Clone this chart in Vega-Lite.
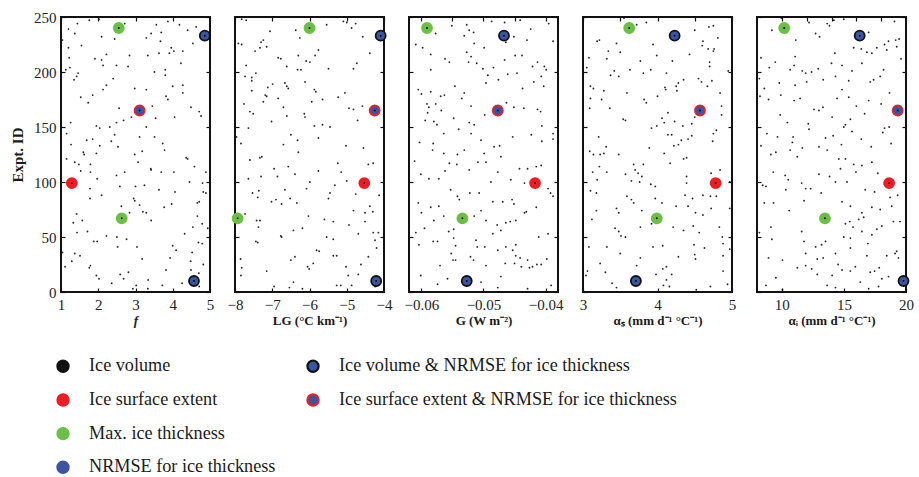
{
"$schema": "https://vega.github.io/schema/vega-lite/v6.json",
"padding": {"left": 9, "top": 9, "right": 5, "bottom": 0},
"bounds": "flush",
"spacing": 25,
"hconcat": [
{"width": 149, "height": 275, "view": {"stroke": "#111", "strokeWidth": 2},
 "resolve": {"axis": {"x": "independent", "y": "independent"}, "scale": {"x": "independent", "y": "independent"}},
 "layer": [
  {"data": {"name": "d1"}, "mark": {"type": "circle", "size": 3.5, "color": "#000", "opacity": 0.85},
   "encoding": {"x": {"field": "x", "type": "quantitative", "scale": {"domain": [1, 5], "nice": false, "zero": false}, "axis": {"values": [1, 2, 3, 4, 5], "title": "f", "titleFontStyle": "italic"}},
                "y": {"field": "id", "type": "quantitative", "scale": {"domain": [0, 250], "nice": false}, "axis": {"values": [0, 50, 100, 150, 200, 250], "title": "Expt. ID", "titleFontSize": 15}}}},
  {"data": {"name": "h1"}, "mark": {"type": "circle", "size": 100, "strokeWidth": 1.8, "opacity": 1},
   "encoding": {"x": {"field": "x", "type": "quantitative", "scale": {"domain": [1, 5], "nice": false, "zero": false}, "axis": {"orient": "top", "values": [1, 2, 3, 4, 5], "labels": false, "title": null}},
                "y": {"field": "id", "type": "quantitative", "scale": {"domain": [0, 250], "nice": false}, "axis": {"orient": "right", "values": [0, 50, 100, 150, 200, 250], "labels": false, "title": null}},
                "fill": {"field": "cat", "type": "nominal", "legend": null, "scale": {"domain": ["Ice volume", "Ice surface extent", "Max. ice thickness", "NRMSE for ice thickness", "Ice volume & NRMSE for ice thickness", "Ice surface extent & NRMSE for ice thickness"], "range": ["#111111", "#ee1d23", "#6cbf45", "#3b55a5", "#3b55a5", "#3b55a5"]}},
                "stroke": {"field": "cat", "type": "nominal", "legend": null, "scale": {"domain": ["Ice volume", "Ice surface extent", "Max. ice thickness", "NRMSE for ice thickness", "Ice volume & NRMSE for ice thickness", "Ice surface extent & NRMSE for ice thickness"], "range": ["#111111", "#ee1d23", "#6cbf45", "#3b55a5", "#111111", "#ee1d23"]}}}},
  {"data": {"name": "h1"}, "mark": {"type": "circle", "size": 3.5, "color": "#000", "opacity": 1},
   "encoding": {"x": {"field": "x", "type": "quantitative", "scale": {"domain": [1, 5], "nice": false, "zero": false}, "axis": null}, "y": {"field": "id", "type": "quantitative", "scale": {"domain": [0, 250], "nice": false}, "axis": null}}},
  {"data": {"name": "leg"}, "mark": {"type": "circle", "size": 125, "strokeWidth": 2.2, "opacity": 1},
   "encoding": {"x": {"field": "col", "type": "quantitative", "scale": {"domain": [-0.008, 0.588], "nice": false, "zero": false}, "axis": null},
                "y": {"field": "row", "type": "quantitative", "scale": {"domain": [-9.374, -1.206], "nice": false, "zero": false, "reverse": true}, "axis": null},
                "fill": {"field": "cat", "type": "nominal", "legend": null},
                "stroke": {"field": "cat", "type": "nominal", "legend": null}}},
  {"data": {"name": "leg"}, "mark": {"type": "text", "align": "left", "baseline": "middle", "dx": 26, "font": "Liberation Serif", "fontSize": 18.2, "color": "#1a1a1a"},
   "encoding": {"x": {"field": "col", "type": "quantitative", "scale": {"domain": [-0.008, 0.588], "nice": false, "zero": false}, "axis": null},
                "y": {"field": "row", "type": "quantitative", "scale": {"domain": [-9.374, -1.206], "nice": false, "zero": false, "reverse": true}, "axis": null},
                "text": {"field": "cat", "type": "nominal"}}}
 ]},
{"width": 149, "height": 275, "view": {"stroke": "#111", "strokeWidth": 2},
 "resolve": {"axis": {"x": "independent", "y": "independent"}},
 "layer": [
  {"data": {"name": "d2"}, "mark": {"type": "circle", "size": 3.5, "color": "#000", "opacity": 0.85},
   "encoding": {"x": {"field": "x", "type": "quantitative", "scale": {"domain": [-8, -4], "nice": false, "zero": false}, "axis": {"values": [-8, -7, -6, -5, -4], "title": "LG (°C km⁻¹)"}},
                "y": {"field": "id", "type": "quantitative", "scale": {"domain": [0, 250], "nice": false}, "axis": {"values": [0, 50, 100, 150, 200, 250], "labels": false, "title": null}}}},
  {"data": {"name": "h2"}, "mark": {"type": "circle", "size": 100, "strokeWidth": 1.8, "opacity": 1},
   "encoding": {"x": {"field": "x", "type": "quantitative", "scale": {"domain": [-8, -4], "nice": false, "zero": false}, "axis": {"orient": "top", "values": [-8, -7, -6, -5, -4], "labels": false, "title": null}},
                "y": {"field": "id", "type": "quantitative", "scale": {"domain": [0, 250], "nice": false}, "axis": {"orient": "right", "values": [0, 50, 100, 150, 200, 250], "labels": false, "title": null}},
                "fill": {"field": "cat", "type": "nominal", "legend": null},
                "stroke": {"field": "cat", "type": "nominal", "legend": null}}},
  {"data": {"name": "h2"}, "mark": {"type": "circle", "size": 3.5, "color": "#000", "opacity": 1},
   "encoding": {"x": {"field": "x", "type": "quantitative", "axis": null}, "y": {"field": "id", "type": "quantitative", "axis": null}}}
 ]},
{"width": 149, "height": 275, "view": {"stroke": "#111", "strokeWidth": 2},
 "resolve": {"axis": {"x": "independent", "y": "independent"}},
 "layer": [
  {"data": {"name": "d3"}, "mark": {"type": "circle", "size": 3.5, "color": "#000", "opacity": 0.85},
   "encoding": {"x": {"field": "x", "type": "quantitative", "scale": {"domain": [-0.062, -0.038], "nice": false, "zero": false}, "axis": {"values": [-0.06, -0.05, -0.04], "format": ".2f", "title": "G (W m⁻²)"}},
                "y": {"field": "id", "type": "quantitative", "scale": {"domain": [0, 250], "nice": false}, "axis": {"values": [0, 50, 100, 150, 200, 250], "labels": false, "title": null}}}},
  {"data": {"name": "h3"}, "mark": {"type": "circle", "size": 100, "strokeWidth": 1.8, "opacity": 1},
   "encoding": {"x": {"field": "x", "type": "quantitative", "scale": {"domain": [-0.062, -0.038], "nice": false, "zero": false}, "axis": {"orient": "top", "values": [-0.06, -0.055, -0.05, -0.045, -0.04], "labels": false, "title": null}},
                "y": {"field": "id", "type": "quantitative", "scale": {"domain": [0, 250], "nice": false}, "axis": {"orient": "right", "values": [0, 50, 100, 150, 200, 250], "labels": false, "title": null}},
                "fill": {"field": "cat", "type": "nominal", "legend": null},
                "stroke": {"field": "cat", "type": "nominal", "legend": null}}},
  {"data": {"name": "h3"}, "mark": {"type": "circle", "size": 3.5, "color": "#000", "opacity": 1},
   "encoding": {"x": {"field": "x", "type": "quantitative", "axis": null}, "y": {"field": "id", "type": "quantitative", "axis": null}}}
 ]},
{"width": 149, "height": 275, "view": {"stroke": "#111", "strokeWidth": 2},
 "resolve": {"axis": {"x": "independent", "y": "independent"}},
 "layer": [
  {"data": {"name": "d4"}, "mark": {"type": "circle", "size": 3.5, "color": "#000", "opacity": 0.85},
   "encoding": {"x": {"field": "x", "type": "quantitative", "scale": {"domain": [3, 5], "nice": false, "zero": false}, "axis": {"values": [3, 4, 5], "format": "~g", "title": "αₛ (mm d⁻¹ °C⁻¹)"}},
                "y": {"field": "id", "type": "quantitative", "scale": {"domain": [0, 250], "nice": false}, "axis": {"values": [0, 50, 100, 150, 200, 250], "labels": false, "title": null}}}},
  {"data": {"name": "h4"}, "mark": {"type": "circle", "size": 100, "strokeWidth": 1.8, "opacity": 1},
   "encoding": {"x": {"field": "x", "type": "quantitative", "scale": {"domain": [3, 5], "nice": false, "zero": false}, "axis": {"orient": "top", "values": [3, 3.5, 4, 4.5, 5], "labels": false, "title": null}},
                "y": {"field": "id", "type": "quantitative", "scale": {"domain": [0, 250], "nice": false}, "axis": {"orient": "right", "values": [0, 50, 100, 150, 200, 250], "labels": false, "title": null}},
                "fill": {"field": "cat", "type": "nominal", "legend": null},
                "stroke": {"field": "cat", "type": "nominal", "legend": null}}},
  {"data": {"name": "h4"}, "mark": {"type": "circle", "size": 3.5, "color": "#000", "opacity": 1},
   "encoding": {"x": {"field": "x", "type": "quantitative", "axis": null}, "y": {"field": "id", "type": "quantitative", "axis": null}}}
 ]},
{"width": 149, "height": 275, "view": {"stroke": "#111", "strokeWidth": 2},
 "resolve": {"axis": {"x": "independent", "y": "independent"}},
 "layer": [
  {"data": {"name": "d5"}, "mark": {"type": "circle", "size": 3.5, "color": "#000", "opacity": 0.85},
   "encoding": {"x": {"field": "x", "type": "quantitative", "scale": {"domain": [8, 20], "nice": false, "zero": false}, "axis": {"values": [10, 15, 20], "title": "αᵢ (mm d⁻¹ °C⁻¹)"}},
                "y": {"field": "id", "type": "quantitative", "scale": {"domain": [0, 250], "nice": false}, "axis": {"values": [0, 50, 100, 150, 200, 250], "labels": false, "title": null}}}},
  {"data": {"name": "h5"}, "mark": {"type": "circle", "size": 100, "strokeWidth": 1.8, "opacity": 1},
   "encoding": {"x": {"field": "x", "type": "quantitative", "scale": {"domain": [8, 20], "nice": false, "zero": false}, "axis": {"orient": "top", "values": [10, 12, 14, 16, 18, 20], "labels": false, "title": null}},
                "y": {"field": "id", "type": "quantitative", "scale": {"domain": [0, 250], "nice": false}, "axis": {"orient": "right", "values": [0, 50, 100, 150, 200, 250], "labels": false, "title": null}},
                "fill": {"field": "cat", "type": "nominal", "legend": null},
                "stroke": {"field": "cat", "type": "nominal", "legend": null}}},
  {"data": {"name": "h5"}, "mark": {"type": "circle", "size": 3.5, "color": "#000", "opacity": 1},
   "encoding": {"x": {"field": "x", "type": "quantitative", "axis": null}, "y": {"field": "id", "type": "quantitative", "axis": null}}}
 ]}
],
"datasets": {
"leg": [
 {"col": 0, "row": 1, "cat": "Ice volume"},
 {"col": 0, "row": 2, "cat": "Ice surface extent"},
 {"col": 0, "row": 3, "cat": "Max. ice thickness"},
 {"col": 0, "row": 4, "cat": "NRMSE for ice thickness"},
 {"col": 1, "row": 1, "cat": "Ice volume & NRMSE for ice thickness"},
 {"col": 1, "row": 2, "cat": "Ice surface extent & NRMSE for ice thickness"}
],
"h1": [
 {"id": 240, "x": 2.55, "cat": "Max. ice thickness"},
 {"id": 233, "x": 4.86, "cat": "Ice volume & NRMSE for ice thickness"},
 {"id": 165, "x": 3.11, "cat": "Ice surface extent & NRMSE for ice thickness"},
 {"id": 99, "x": 1.29, "cat": "Ice surface extent"},
 {"id": 67, "x": 2.63, "cat": "Max. ice thickness"},
 {"id": 10, "x": 4.57, "cat": "Ice volume & NRMSE for ice thickness"}
],
"h2": [
 {"id": 240, "x": -6.0, "cat": "Max. ice thickness"},
 {"id": 233, "x": -4.09, "cat": "Ice volume & NRMSE for ice thickness"},
 {"id": 165, "x": -4.25, "cat": "Ice surface extent & NRMSE for ice thickness"},
 {"id": 99, "x": -4.53, "cat": "Ice surface extent"},
 {"id": 67, "x": -7.93, "cat": "Max. ice thickness"},
 {"id": 10, "x": -4.21, "cat": "Ice volume & NRMSE for ice thickness"}
],
"h3": [
 {"id": 240, "x": -0.0591, "cat": "Max. ice thickness"},
 {"id": 233, "x": -0.0467, "cat": "Ice volume & NRMSE for ice thickness"},
 {"id": 165, "x": -0.0477, "cat": "Ice surface extent & NRMSE for ice thickness"},
 {"id": 99, "x": -0.0417, "cat": "Ice surface extent"},
 {"id": 67, "x": -0.0534, "cat": "Max. ice thickness"},
 {"id": 10, "x": -0.0527, "cat": "Ice volume & NRMSE for ice thickness"}
],
"h4": [
 {"id": 240, "x": 3.62, "cat": "Max. ice thickness"},
 {"id": 233, "x": 4.23, "cat": "Ice volume & NRMSE for ice thickness"},
 {"id": 165, "x": 4.57, "cat": "Ice surface extent & NRMSE for ice thickness"},
 {"id": 99, "x": 4.78, "cat": "Ice surface extent"},
 {"id": 67, "x": 3.99, "cat": "Max. ice thickness"},
 {"id": 10, "x": 3.71, "cat": "Ice volume & NRMSE for ice thickness"}
],
"h5": [
 {"id": 240, "x": 10.19, "cat": "Max. ice thickness"},
 {"id": 233, "x": 16.27, "cat": "Ice volume & NRMSE for ice thickness"},
 {"id": 165, "x": 19.33, "cat": "Ice surface extent & NRMSE for ice thickness"},
 {"id": 99, "x": 18.64, "cat": "Ice surface extent"},
 {"id": 67, "x": 13.47, "cat": "Max. ice thickness"},
 {"id": 10, "x": 19.8, "cat": "Ice volume & NRMSE for ice thickness"}
],
"d1": [
{"x":1.20,"id":239},{"x":1.44,"id":244},{"x":1.76,"id":247},{"x":2.02,"id":248},{"x":2.71,"id":244},{"x":3.56,"id":243},{"x":3.87,"id":246},{"x":4.18,"id":243},{"x":4.63,"id":241},{"x":4.40,"id":238},
{"x":1.04,"id":229},{"x":1.37,"id":235},{"x":2.09,"id":232},{"x":2.44,"id":230},{"x":3.29,"id":231},{"x":3.42,"id":235},{"x":3.69,"id":236},{"x":3.67,"id":228},{"x":4.54,"id":226},{"x":1.55,"id":224},
{"x":1.20,"id":222},{"x":1.22,"id":213},{"x":2.22,"id":216},{"x":2.84,"id":215},{"x":2.09,"id":211},{"x":2.13,"id":206},{"x":1.91,"id":212},{"x":2.49,"id":206},{"x":3.33,"id":215},{"x":3.63,"id":217},
{"x":3.96,"id":222},{"x":4.03,"id":219},{"x":4.27,"id":219},{"x":3.91,"id":217},{"x":4.22,"id":208},{"x":1.13,"id":202},{"x":1.24,"id":204},{"x":1.46,"id":199},{"x":1.42,"id":196},{"x":1.35,"id":193},
{"x":2.40,"id":194},{"x":2.80,"id":205},{"x":3.51,"id":200},{"x":3.80,"id":202},{"x":3.80,"id":197},{"x":2.22,"id":188},{"x":2.13,"id":184},{"x":1.85,"id":179},{"x":1.53,"id":177},{"x":1.73,"id":172},
{"x":2.98,"id":185},{"x":3.29,"id":184},{"x":4.00,"id":187},{"x":3.82,"id":178},{"x":3.87,"id":175},{"x":4.27,"id":188},{"x":4.27,"id":181},{"x":4.49,"id":168},{"x":4.71,"id":164},{"x":4.76,"id":160},
{"x":4.05,"id":159},{"x":3.45,"id":169},{"x":3.54,"id":158},{"x":2.89,"id":159},{"x":2.56,"id":167},{"x":2.68,"id":156},{"x":1.26,"id":154},{"x":1.15,"id":144},{"x":1.27,"id":134},{"x":1.95,"id":151},
{"x":2.04,"id":149},{"x":2.31,"id":150},{"x":2.49,"id":154},{"x":3.29,"id":150},{"x":2.44,"id":143},{"x":3.11,"id":141},{"x":3.51,"id":141},{"x":3.73,"id":135},{"x":1.69,"id":138},{"x":1.85,"id":139},
{"x":2.04,"id":133},{"x":2.35,"id":137},{"x":2.53,"id":132},{"x":1.60,"id":127},{"x":1.62,"id":125},{"x":1.95,"id":126},{"x":2.98,"id":125},{"x":3.18,"id":128},{"x":3.78,"id":129},{"x":4.36,"id":122},
{"x":4.40,"id":121},{"x":4.58,"id":114},{"x":1.15,"id":121},{"x":1.37,"id":118},{"x":1.48,"id":116},{"x":1.79,"id":116},{"x":1.53,"id":110},{"x":1.79,"id":109},{"x":1.97,"id":103},{"x":2.49,"id":106},
{"x":2.71,"id":109},{"x":3.07,"id":118},{"x":3.41,"id":112},{"x":3.42,"id":111},{"x":3.69,"id":109},{"x":4.03,"id":109},{"x":4.45,"id":100},{"x":4.80,"id":99},{"x":4.89,"id":109},{"x":4.82,"id":91},
{"x":1.78,"id":94},{"x":2.09,"id":88},{"x":1.78,"id":85},{"x":2.58,"id":96},{"x":3.00,"id":96},{"x":3.24,"id":97},{"x":3.63,"id":93},{"x":4.06,"id":91},{"x":2.95,"id":85},{"x":2.98,"id":83},
{"x":3.11,"id":79},{"x":2.62,"id":78},{"x":2.84,"id":72},{"x":3.20,"id":73},{"x":3.29,"id":72},{"x":3.42,"id":65},{"x":3.77,"id":77},{"x":3.97,"id":80},{"x":4.71,"id":82},{"x":4.66,"id":81},
{"x":4.89,"id":90},{"x":1.42,"id":71},{"x":1.33,"id":63},{"x":1.57,"id":65},{"x":1.43,"id":54},{"x":1.71,"id":55},{"x":2.22,"id":51},{"x":2.50,"id":50},{"x":2.76,"id":48},{"x":1.88,"id":46},
{"x":1.97,"id":46},{"x":2.52,"id":41},{"x":3.04,"id":41},{"x":4.00,"id":42},{"x":4.09,"id":38},{"x":4.52,"id":36},{"x":4.69,"id":45},{"x":4.79,"id":44},{"x":4.94,"id":58},{"x":4.32,"id":53},
{"x":4.79,"id":62},{"x":4.54,"id":59},{"x":4.66,"id":69},{"x":1.11,"id":23},{"x":1.29,"id":28},{"x":1.37,"id":35},{"x":1.51,"id":33},{"x":1.04,"id":36},{"x":1.76,"id":22},{"x":1.79,"id":24},
{"x":1.95,"id":15},{"x":2.02,"id":12},{"x":2.36,"id":8},{"x":2.59,"id":16},{"x":2.68,"id":12},{"x":2.81,"id":18},{"x":3.18,"id":30},{"x":3.34,"id":11},{"x":3.02,"id":6},{"x":2.93,"id":3},
{"x":3.33,"id":3},{"x":3.72,"id":6},{"x":3.82,"id":20},{"x":3.93,"id":31},{"x":4.25,"id":8},{"x":4.48,"id":28},{"x":4.49,"id":20},{"x":4.70,"id":17},{"x":4.82,"id":25},{"x":4.71,"id":5}
],
"d2": [
{"x":-7.82,"id":248},{"x":-7.70,"id":247},{"x":-5.09,"id":246},{"x":-5.00,"id":245},{"x":-4.76,"id":244},{"x":-5.54,"id":243},{"x":-7.06,"id":237},{"x":-6.37,"id":238},{"x":-4.87,"id":240},{"x":-4.57,"id":232},
{"x":-6.26,"id":231},{"x":-7.24,"id":229},{"x":-7.30,"id":227},{"x":-7.91,"id":226},{"x":-7.82,"id":225},{"x":-7.15,"id":223},{"x":-7.33,"id":222},{"x":-7.46,"id":219},{"x":-5.76,"id":220},{"x":-4.38,"id":217},
{"x":-5.85,"id":215},{"x":-6.30,"id":215},{"x":-6.84,"id":213},{"x":-6.77,"id":212},{"x":-6.09,"id":210},{"x":-5.99,"id":209},{"x":-4.73,"id":208},{"x":-4.82,"id":203},{"x":-7.70,"id":206},{"x":-6.61,"id":205},
{"x":-5.49,"id":203},{"x":-6.32,"id":202},{"x":-6.23,"id":202},{"x":-7.44,"id":199},{"x":-7.73,"id":196},{"x":-7.55,"id":195},{"x":-7.55,"id":192},{"x":-6.12,"id":191},{"x":-6.66,"id":190},{"x":-6.61,"id":187},
{"x":-6.57,"id":185},{"x":-6.99,"id":189},{"x":-7.12,"id":186},{"x":-7.55,"id":183},{"x":-5.87,"id":184},{"x":-5.83,"id":182},{"x":-7.19,"id":179},{"x":-7.15,"id":178},{"x":-6.84,"id":176},{"x":-7.24,"id":173},
{"x":-7.76,"id":171},{"x":-5.94,"id":173},{"x":-5.65,"id":175},{"x":-5.05,"id":181},{"x":-5.23,"id":177},{"x":-6.70,"id":168},{"x":-7.60,"id":164},{"x":-7.51,"id":162},{"x":-6.14,"id":162},{"x":-6.12,"id":159},
{"x":-4.94,"id":167},{"x":-4.82,"id":166},{"x":-4.58,"id":169},{"x":-4.71,"id":156},{"x":-6.61,"id":160},{"x":-7.02,"id":155},{"x":-5.87,"id":151},{"x":-5.65,"id":152},{"x":-5.45,"id":150},{"x":-7.64,"id":149},
{"x":-6.70,"id":134},{"x":-6.50,"id":143},{"x":-6.32,"id":138},{"x":-6.30,"id":127},{"x":-5.76,"id":140},{"x":-5.02,"id":133},{"x":-4.55,"id":131},{"x":-7.96,"id":141},{"x":-7.84,"id":135},{"x":-7.28,"id":123},
{"x":-7.33,"id":122},{"x":-7.60,"id":120},{"x":-4.29,"id":117},{"x":-4.42,"id":116},{"x":-5.24,"id":117},{"x":-5.76,"id":110},{"x":-5.15,"id":109},{"x":-6.57,"id":114},{"x":-6.95,"id":112},{"x":-6.86,"id":105},
{"x":-6.39,"id":107},{"x":-7.30,"id":105},{"x":-7.64,"id":103},{"x":-5.00,"id":101},{"x":-5.99,"id":100},{"x":-6.08,"id":94},{"x":-5.32,"id":97},{"x":-6.66,"id":93},{"x":-7.36,"id":92},{"x":-7.53,"id":90},
{"x":-7.39,"id":86},{"x":-5.45,"id":90},{"x":-5.49,"id":85},{"x":-4.76,"id":89},{"x":-4.13,"id":88},{"x":-7.02,"id":82},{"x":-6.90,"id":84},{"x":-6.75,"id":80},{"x":-6.52,"id":85},{"x":-6.34,"id":81},
{"x":-4.38,"id":78},{"x":-4.82,"id":74},{"x":-4.51,"id":72},{"x":-4.30,"id":73},{"x":-7.73,"id":71},{"x":-7.42,"id":65},{"x":-7.33,"id":65},{"x":-6.03,"id":69},{"x":-5.60,"id":66},{"x":-5.36,"id":64},
{"x":-7.37,"id":59},{"x":-6.43,"id":56},{"x":-6.19,"id":58},{"x":-6.77,"id":51},{"x":-6.75,"id":50},{"x":-5.54,"id":50},{"x":-5.36,"id":48},{"x":-4.94,"id":61},{"x":-4.69,"id":53},{"x":-4.51,"id":64},
{"x":-4.29,"id":54},{"x":-4.15,"id":54},{"x":-7.44,"id":46},{"x":-7.39,"id":45},{"x":-4.24,"id":47},{"x":-4.20,"id":40},{"x":-4.42,"id":32},{"x":-6.39,"id":32},{"x":-6.50,"id":29},{"x":-5.81,"id":38},
{"x":-5.74,"id":37},{"x":-5.36,"id":33},{"x":-5.27,"id":33},{"x":-7.15,"id":19},{"x":-7.85,"id":30},{"x":-7.82,"id":22},{"x":-7.84,"id":15},{"x":-6.05,"id":23},{"x":-6.01,"id":21},{"x":-5.90,"id":26},
{"x":-5.02,"id":23},{"x":-4.96,"id":15},{"x":-4.69,"id":16},{"x":-4.62,"id":25},{"x":-6.95,"id":5},{"x":-6.54,"id":4},{"x":-6.43,"id":9},{"x":-6.19,"id":3},{"x":-5.27,"id":6},{"x":-5.16,"id":6},
{"x":-4.87,"id":6},{"x":-4.24,"id":5}
],
"d3": [
{"x":-0.0551,"id":242},{"x":-0.0527,"id":243},{"x":-0.0487,"id":246},{"x":-0.0466,"id":245},{"x":-0.0441,"id":247},{"x":-0.0424,"id":239},{"x":-0.0395,"id":244},{"x":-0.0577,"id":235},{"x":-0.0531,"id":233},{"x":-0.0523,"id":238},
{"x":-0.0516,"id":236},{"x":-0.0515,"id":226},{"x":-0.0499,"id":222},{"x":-0.0451,"id":232},{"x":-0.0464,"id":227},{"x":-0.0430,"id":229},{"x":-0.0609,"id":225},{"x":-0.0598,"id":222},{"x":-0.0585,"id":216},{"x":-0.0562,"id":212},
{"x":-0.0555,"id":209},{"x":-0.0527,"id":218},{"x":-0.0520,"id":214},{"x":-0.0524,"id":209},{"x":-0.0511,"id":208},{"x":-0.0501,"id":203},{"x":-0.0484,"id":204},{"x":-0.0466,"id":211},{"x":-0.0449,"id":215},{"x":-0.0438,"id":215},
{"x":-0.0421,"id":205},{"x":-0.0413,"id":209},{"x":-0.0402,"id":205},{"x":-0.0399,"id":202},{"x":-0.0388,"id":228},{"x":-0.0585,"id":202},{"x":-0.0605,"id":184},{"x":-0.0600,"id":180},{"x":-0.0585,"id":182},{"x":-0.0569,"id":178},
{"x":-0.0563,"id":179},{"x":-0.0546,"id":187},{"x":-0.0531,"id":181},{"x":-0.0535,"id":176},{"x":-0.0493,"id":197},{"x":-0.0496,"id":190},{"x":-0.0476,"id":193},{"x":-0.0461,"id":198},{"x":-0.0446,"id":199},{"x":-0.0437,"id":185},
{"x":-0.0419,"id":191},{"x":-0.0407,"id":196},{"x":-0.0403,"id":187},{"x":-0.0591,"id":171},{"x":-0.0577,"id":171},{"x":-0.0590,"id":163},{"x":-0.0588,"id":168},{"x":-0.0568,"id":165},{"x":-0.0548,"id":158},{"x":-0.0520,"id":169},
{"x":-0.0523,"id":154},{"x":-0.0515,"id":152},{"x":-0.0498,"id":161},{"x":-0.0463,"id":172},{"x":-0.0451,"id":168},{"x":-0.0435,"id":167},{"x":-0.0413,"id":166},{"x":-0.0408,"id":164},{"x":-0.0594,"id":156},{"x":-0.0580,"id":155},
{"x":-0.0575,"id":152},{"x":-0.0564,"id":144},{"x":-0.0540,"id":148},{"x":-0.0520,"id":144},{"x":-0.0483,"id":132},{"x":-0.0474,"id":133},{"x":-0.0453,"id":141},{"x":-0.0423,"id":143},{"x":-0.0406,"id":151},{"x":-0.0388,"id":144},
{"x":-0.0388,"id":139},{"x":-0.0406,"id":137},{"x":-0.0603,"id":136},{"x":-0.0581,"id":135},{"x":-0.0582,"id":129},{"x":-0.0564,"id":126},{"x":-0.0542,"id":125},{"x":-0.0531,"id":129},{"x":-0.0499,"id":126},{"x":-0.0504,"id":138},
{"x":-0.0472,"id":123},{"x":-0.0611,"id":119},{"x":-0.0555,"id":117},{"x":-0.0543,"id":116},{"x":-0.0523,"id":111},{"x":-0.0509,"id":118},{"x":-0.0496,"id":118},{"x":-0.0477,"id":109},{"x":-0.0442,"id":112},{"x":-0.0429,"id":112},
{"x":-0.0415,"id":114},{"x":-0.0407,"id":115},{"x":-0.0601,"id":107},{"x":-0.0588,"id":103},{"x":-0.0572,"id":103},{"x":-0.0562,"id":110},{"x":-0.0488,"id":100},{"x":-0.0456,"id":102},{"x":-0.0434,"id":99},{"x":-0.0396,"id":94},
{"x":-0.0392,"id":90},{"x":-0.0388,"id":87},{"x":-0.0605,"id":81},{"x":-0.0585,"id":77},{"x":-0.0572,"id":78},{"x":-0.0553,"id":93},{"x":-0.0542,"id":87},{"x":-0.0539,"id":84},{"x":-0.0522,"id":90},{"x":-0.0507,"id":90},
{"x":-0.0485,"id":82},{"x":-0.0469,"id":82},{"x":-0.0454,"id":84},{"x":-0.0451,"id":80},{"x":-0.0431,"id":73},{"x":-0.0415,"id":77},{"x":-0.0600,"id":72},{"x":-0.0595,"id":58},{"x":-0.0580,"id":65},{"x":-0.0564,"id":69},
{"x":-0.0548,"id":57},{"x":-0.0556,"id":55},{"x":-0.0515,"id":69},{"x":-0.0504,"id":74},{"x":-0.0496,"id":65},{"x":-0.0478,"id":61},{"x":-0.0472,"id":56},{"x":-0.0464,"id":63},{"x":-0.0457,"id":64},{"x":-0.0448,"id":65},
{"x":-0.0434,"id":72},{"x":-0.0609,"id":54},{"x":-0.0604,"id":43},{"x":-0.0581,"id":46},{"x":-0.0574,"id":46},{"x":-0.0548,"id":49},{"x":-0.0545,"id":42},{"x":-0.0512,"id":47},{"x":-0.0510,"id":41},{"x":-0.0498,"id":41},
{"x":-0.0485,"id":53},{"x":-0.0477,"id":38},{"x":-0.0464,"id":41},{"x":-0.0453,"id":38},{"x":-0.0448,"id":33},{"x":-0.0441,"id":31},{"x":-0.0429,"id":29},{"x":-0.0411,"id":50},{"x":-0.0396,"id":53},{"x":-0.0448,"id":43},
{"x":-0.0552,"id":35},{"x":-0.0549,"id":29},{"x":-0.0545,"id":29},{"x":-0.0570,"id":24},{"x":-0.0521,"id":32},{"x":-0.0516,"id":29},{"x":-0.0496,"id":24},{"x":-0.0465,"id":26},{"x":-0.0450,"id":26},{"x":-0.0439,"id":23},
{"x":-0.0426,"id":22},{"x":-0.0421,"id":23},{"x":-0.0414,"id":25},{"x":-0.0407,"id":25},{"x":-0.0398,"id":30},{"x":-0.0601,"id":15},{"x":-0.0574,"id":7},{"x":-0.0558,"id":12},{"x":-0.0504,"id":9},{"x":-0.0477,"id":4},
{"x":-0.0472,"id":14},{"x":-0.0429,"id":3},{"x":-0.0391,"id":6}
],
"d4": [
{"x":3.55,"id":249},{"x":3.85,"id":245},{"x":3.72,"id":243},{"x":4.50,"id":238},{"x":4.69,"id":241},{"x":4.75,"id":242},{"x":4.81,"id":231},{"x":3.19,"id":228},{"x":3.22,"id":229},{"x":3.45,"id":226},
{"x":3.34,"id":219},{"x":3.50,"id":218},{"x":3.94,"id":225},{"x":4.60,"id":224},{"x":4.68,"id":221},{"x":4.76,"id":221},{"x":4.61,"id":228},{"x":4.75,"id":219},{"x":3.08,"id":213},{"x":3.32,"id":212},
{"x":3.77,"id":210},{"x":3.99,"id":215},{"x":4.20,"id":210},{"x":4.43,"id":216},{"x":4.70,"id":209},{"x":4.70,"id":205},{"x":3.05,"id":204},{"x":3.42,"id":201},{"x":3.37,"id":197},{"x":3.48,"id":196},
{"x":3.63,"id":202},{"x":3.81,"id":199},{"x":3.91,"id":202},{"x":4.12,"id":199},{"x":4.28,"id":190},{"x":4.25,"id":187},{"x":4.35,"id":193},{"x":4.55,"id":194},{"x":4.59,"id":191},{"x":4.73,"id":192},
{"x":4.95,"id":201},{"x":3.10,"id":187},{"x":3.14,"id":185},{"x":3.28,"id":183},{"x":3.10,"id":176},{"x":3.25,"id":175},{"x":3.59,"id":181},{"x":3.82,"id":175},{"x":3.85,"id":172},{"x":4.00,"id":178},
{"x":4.10,"id":186},{"x":4.11,"id":184},{"x":4.26,"id":183},{"x":4.67,"id":187},{"x":4.84,"id":181},{"x":4.86,"id":169},{"x":4.86,"id":161},{"x":3.09,"id":167},{"x":3.36,"id":167},{"x":3.57,"id":156},
{"x":3.54,"id":157},{"x":4.14,"id":163},{"x":4.06,"id":158},{"x":4.09,"id":154},{"x":4.23,"id":155},{"x":4.34,"id":151},{"x":4.46,"id":153},{"x":4.50,"id":159},{"x":4.79,"id":147},{"x":4.75,"id":144},
{"x":3.92,"id":149},{"x":3.99,"id":151},{"x":4.14,"id":143},{"x":4.19,"id":143},{"x":4.32,"id":138},{"x":4.22,"id":133},{"x":4.28,"id":134},{"x":4.41,"id":139},{"x":4.46,"id":142},{"x":4.74,"id":137},
{"x":3.21,"id":141},{"x":3.31,"id":132},{"x":3.28,"id":126},{"x":3.14,"id":125},{"x":3.23,"id":125},{"x":3.09,"id":128},{"x":3.48,"id":125},{"x":3.89,"id":131},{"x":4.09,"id":126},{"x":4.39,"id":122},
{"x":4.35,"id":121},{"x":3.22,"id":114},{"x":3.32,"id":109},{"x":3.13,"id":109},{"x":3.19,"id":102},{"x":3.68,"id":116},{"x":3.81,"id":116},{"x":3.70,"id":111},{"x":3.74,"id":108},{"x":3.79,"id":105},
{"x":3.57,"id":107},{"x":3.65,"id":101},{"x":3.76,"id":100},{"x":3.91,"id":98},{"x":3.97,"id":96},{"x":4.17,"id":117},{"x":4.39,"id":105},{"x":4.39,"id":99},{"x":4.72,"id":108},{"x":4.84,"id":111},
{"x":4.97,"id":100},{"x":3.10,"id":92},{"x":3.18,"id":90},{"x":3.59,"id":87},{"x":3.65,"id":84},{"x":3.68,"id":81},{"x":3.97,"id":85},{"x":4.06,"id":81},{"x":4.37,"id":88},{"x":4.47,"id":85},
{"x":4.61,"id":88},{"x":4.71,"id":87},{"x":4.79,"id":87},{"x":3.45,"id":76},{"x":3.48,"id":72},{"x":3.18,"id":74},{"x":3.12,"id":66},{"x":3.79,"id":74},{"x":4.25,"id":78},{"x":4.41,"id":78},
{"x":4.51,"id":72},{"x":4.61,"id":70},{"x":4.72,"id":76},{"x":4.97,"id":76},{"x":3.43,"id":58},{"x":3.48,"id":55},{"x":3.57,"id":50},{"x":3.51,"id":51},{"x":3.77,"id":59},{"x":3.92,"id":62},
{"x":4.21,"id":59},{"x":4.35,"id":56},{"x":4.48,"id":60},{"x":4.56,"id":54},{"x":4.83,"id":59},{"x":4.87,"id":50},{"x":4.88,"id":44},{"x":4.97,"id":39},{"x":3.08,"id":41},{"x":3.32,"id":41},
{"x":3.50,"id":35},{"x":3.77,"id":31},{"x":3.94,"id":41},{"x":4.07,"id":42},{"x":4.28,"id":32},{"x":4.50,"id":34},{"x":4.51,"id":30},{"x":4.49,"id":43},{"x":4.63,"id":40},{"x":4.88,"id":33},
{"x":3.23,"id":26},{"x":3.30,"id":18},{"x":3.06,"id":19},{"x":3.04,"id":15},{"x":3.39,"id":8},{"x":3.45,"id":4},{"x":3.72,"id":24},{"x":3.98,"id":16},{"x":4.07,"id":21},{"x":4.12,"id":23},
{"x":4.19,"id":16},{"x":4.12,"id":11},{"x":4.08,"id":6},{"x":4.16,"id":5},{"x":4.52,"id":2},{"x":4.71,"id":5},{"x":4.88,"id":19},{"x":4.94,"id":7}
],
"d5": [
{"x":9.2,"id":238},{"x":9.97,"id":249},{"x":10.37,"id":236},{"x":12.19,"id":245},{"x":13.65,"id":244},{"x":13.84,"id":242},{"x":14.19,"id":247},{"x":14.99,"id":248},{"x":19.07,"id":246},{"x":12.72,"id":235},
{"x":13.04,"id":232},{"x":11.12,"id":229},{"x":16.99,"id":236},{"x":18.27,"id":225},{"x":18.59,"id":228},{"x":19.17,"id":229},{"x":19.44,"id":230},{"x":15.79,"id":222},{"x":16.4,"id":221},{"x":16.85,"id":218},
{"x":17.25,"id":217},{"x":17.65,"id":222},{"x":18.45,"id":220},{"x":19.25,"id":223},{"x":8.32,"id":213},{"x":8.99,"id":204},{"x":9.47,"id":209},{"x":11.07,"id":214},{"x":10.99,"id":206},{"x":10.67,"id":202},
{"x":11.65,"id":201},{"x":11.92,"id":199},{"x":12.0,"id":191},{"x":12.4,"id":200},{"x":12.93,"id":203},{"x":14.0,"id":208},{"x":14.27,"id":217},{"x":14.32,"id":196},{"x":14.85,"id":206},{"x":15.65,"id":201},
{"x":16.45,"id":208},{"x":17.12,"id":191},{"x":17.39,"id":193},{"x":17.92,"id":196},{"x":18.19,"id":202},{"x":19.6,"id":212},{"x":8.19,"id":194},{"x":9.79,"id":190},{"x":9.92,"id":179},{"x":11.07,"id":188},
{"x":13.33,"id":193},{"x":15.39,"id":192},{"x":14.85,"id":184},{"x":8.59,"id":185},{"x":8.24,"id":178},{"x":8.93,"id":175},{"x":11.47,"id":176},{"x":10.99,"id":174},{"x":14.45,"id":176},{"x":15.39,"id":177},
{"x":16.0,"id":169},{"x":16.67,"id":162},{"x":16.99,"id":174},{"x":18.0,"id":171},{"x":18.67,"id":181},{"x":12.59,"id":166},{"x":12.99,"id":165},{"x":13.31,"id":168},{"x":14.05,"id":159},{"x":9.87,"id":161},
{"x":10.45,"id":154},{"x":12.19,"id":148},{"x":12.13,"id":153},{"x":15.52,"id":157},{"x":15.12,"id":152},{"x":14.99,"id":150},{"x":8.8,"id":144},{"x":9.65,"id":141},{"x":10.91,"id":141},{"x":10.85,"id":136},
{"x":13.52,"id":140},{"x":14.13,"id":142},{"x":14.8,"id":134},{"x":15.65,"id":146},{"x":16.4,"id":139},{"x":17.2,"id":132},{"x":18.27,"id":149},{"x":18.64,"id":150},{"x":18.13,"id":145},{"x":18.8,"id":135},
{"x":8.32,"id":133},{"x":9.12,"id":125},{"x":9.52,"id":127},{"x":10.67,"id":129},{"x":11.25,"id":123},{"x":11.65,"id":131},{"x":12.99,"id":132},{"x":13.65,"id":129},{"x":14.59,"id":121},{"x":14.72,"id":112},
{"x":15.12,"id":121},{"x":15.79,"id":116},{"x":16.45,"id":115},{"x":17.25,"id":118},{"x":9.31,"id":109},{"x":10.27,"id":106},{"x":10.51,"id":102},{"x":11.6,"id":99},{"x":11.92,"id":94},{"x":12.32,"id":94},
{"x":12.99,"id":107},{"x":13.84,"id":105},{"x":14.32,"id":100},{"x":15.25,"id":100},{"x":15.97,"id":109},{"x":17.73,"id":108},{"x":8.45,"id":97},{"x":8.72,"id":96},{"x":10.32,"id":93},{"x":11.79,"id":83},
{"x":13.17,"id":90},{"x":16.72,"id":93},{"x":17.47,"id":91},{"x":18.72,"id":86},{"x":18.85,"id":78},{"x":19.33,"id":88},{"x":8.59,"id":81},{"x":9.33,"id":81},{"x":10.59,"id":74},{"x":14.85,"id":82},
{"x":15.52,"id":78},{"x":17.92,"id":75},{"x":17.25,"id":77},{"x":16.45,"id":72},{"x":16.59,"id":68},{"x":16.19,"id":66},{"x":15.47,"id":64},{"x":15.12,"id":62},{"x":15.73,"id":59},{"x":17.65,"id":57},
{"x":18.05,"id":60},{"x":17.25,"id":52},{"x":18.99,"id":64},{"x":19.52,"id":64},{"x":9.12,"id":59},{"x":8.19,"id":54},{"x":9.2,"id":48},{"x":11.6,"id":55},{"x":11.79,"id":46},{"x":12.72,"id":41},
{"x":13.2,"id":43},{"x":13.52,"id":46},{"x":14.99,"id":50},{"x":15.52,"id":49},{"x":16.45,"id":55},{"x":16.93,"id":44},{"x":19.25,"id":37},{"x":19.12,"id":35},{"x":19.39,"id":31},{"x":16.85,"id":33},
{"x":18.45,"id":33},{"x":8.93,"id":31},{"x":10.05,"id":29},{"x":11.92,"id":35},{"x":12.85,"id":30},{"x":13.33,"id":31},{"x":14.32,"id":35},{"x":15.52,"id":40},{"x":14.53,"id":25},{"x":11.92,"id":24},
{"x":12.4,"id":21},{"x":11.25,"id":22},{"x":12.85,"id":16},{"x":14.05,"id":15},{"x":14.85,"id":20},{"x":15.52,"id":19},{"x":15.92,"id":23},{"x":17.12,"id":18},{"x":17.47,"id":19},{"x":17.84,"id":22},
{"x":9.52,"id":13},{"x":8.72,"id":6},{"x":10.05,"id":2},{"x":13.65,"id":6},{"x":14.32,"id":4},{"x":16.32,"id":9},{"x":16.99,"id":3},{"x":17.79,"id":5},{"x":18.05,"id":12},{"x":18.59,"id":14}
]
},
"config": {
 "view": {"stroke": null},
 "axis": {"domain": false, "grid": false, "ticks": true, "tickColor": "#111", "tickSize": -4, "tickWidth": 1.2, "labelFlush": false, "labelOverlap": false,
          "labelFont": "Liberation Serif", "labelFontSize": 15, "labelColor": "#222", "labelPadding": 9,
          "titleFont": "Liberation Serif", "titleFontSize": 13, "titleFontWeight": "bold", "titleColor": "#1a1a1a"},
 "axisX": {"titlePadding": 2},
 "axisY": {"titlePadding": 8}
}
}
